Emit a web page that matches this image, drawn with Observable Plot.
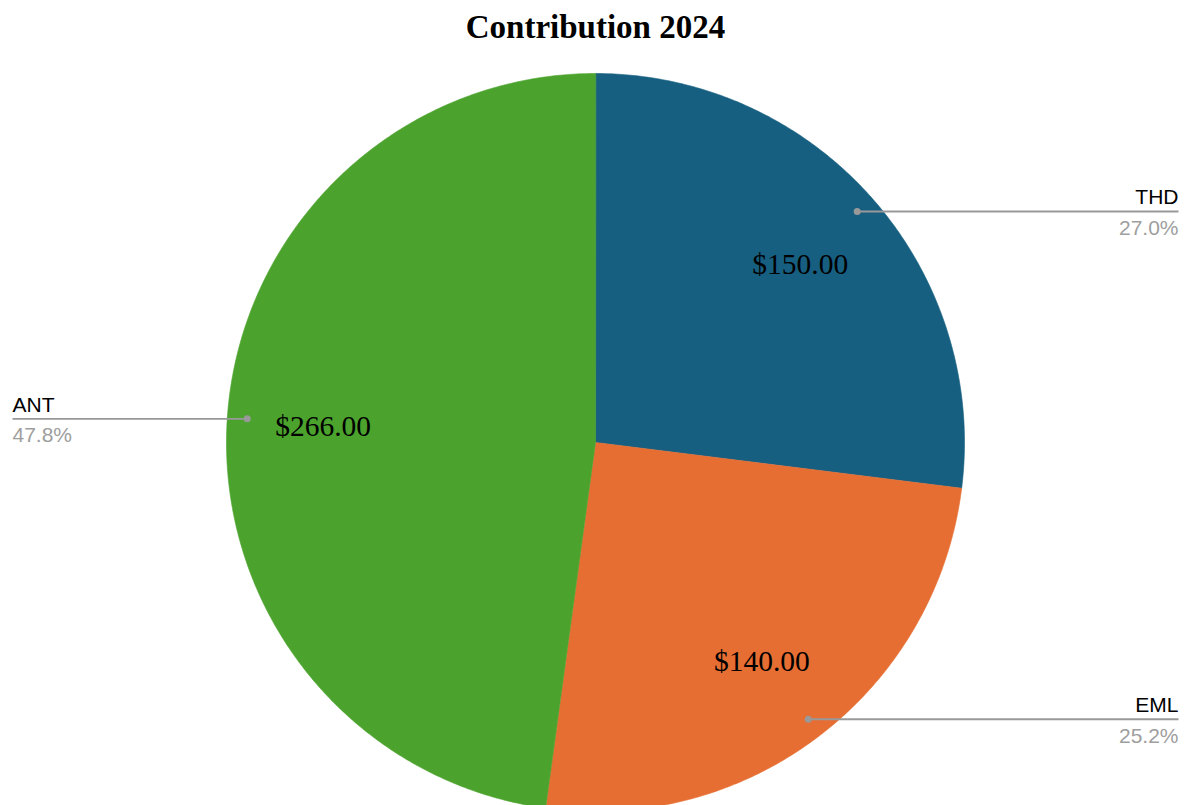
<!DOCTYPE html>
<html>
<head>
<meta charset="utf-8">
<script src="https://cdn.jsdelivr.net/npm/d3@7"></script>
<script src="https://cdn.jsdelivr.net/npm/@observablehq/plot@0.6"></script>
<style>
  html, body { margin: 0; padding: 0; background: #fff; overflow: hidden; }
  #chart svg { display: block; }
</style>
</head>
<body>
<div id="chart"></div>
<script>
// ---- data ----
const title = "Contribution 2024";
const names = ["THD", "EML", "ANT"];
const values = [150, 140, 266];
const colors = ["#175f80", "#e66e33", "#4ba32d"];

// ---- layout (pixels) ----
const W = 1185, H = 805;
const CX = 595, CY = 442, RPX = 369;     // pie centre & radius in px
const DOT_R = 0.946, LABEL_R = 0.74, EDGE = 1.58;

const total = d3.sum(values);
const arcs = d3.pie().sort(null).value(d => d)(values);

// wedge outlines (unit radius, angle clockwise from 12 o'clock)
const wedgePts = [];
arcs.forEach((a, i) => {
  const n = Math.max(4, Math.ceil((a.endAngle - a.startAngle) / (Math.PI / 360)));
  wedgePts.push({name: names[i], x: 0, y: 0});
  for (let k = 0; k <= n; k++) {
    const t = a.startAngle + (a.endAngle - a.startAngle) * k / n;
    wedgePts.push({name: names[i], x: Math.sin(t), y: Math.cos(t)});
  }
});

const labels = arcs.map((a, i) => {
  const m = (a.startAngle + a.endAngle) / 2;
  const side = Math.sin(m) >= 0 ? 1 : -1;
  return {
    name: names[i],
    value: "$" + values[i].toFixed(2),
    pct: (values[i] / total * 100).toFixed(1) + "%",
    side,
    dx: DOT_R * Math.sin(m), dy: DOT_R * Math.cos(m),
    lx: LABEL_R * Math.sin(m), ly: LABEL_R * Math.cos(m),
    ex: EDGE * side
  };
});
const right = labels.filter(d => d.side > 0);
const left = labels.filter(d => d.side < 0);

const sans = "'Liberation Sans', Arial, sans-serif";
const serif = "'Liberation Serif', 'Times New Roman', serif";

function sideText(data, anchor) {
  return [
    Plot.text(data, {x: "ex", y: "dy", text: "name", textAnchor: anchor, lineAnchor: "bottom",
      dy: -7, fontSize: 21, fontFamily: sans, fill: "#000"}),
    Plot.text(data, {x: "ex", y: "dy", text: "pct", textAnchor: anchor, lineAnchor: "top",
      dy: 8.5, fontSize: 21, fontFamily: sans, fill: "#9e9e9e"})
  ];
}

const chart = Plot.plot({
  width: W, height: H, margin: 0,
  style: {background: "#fff", overflow: "hidden"},
  x: {domain: [-CX / RPX, (W - CX) / RPX], axis: null},
  y: {domain: [-(H - CY) / RPX, CY / RPX], axis: null},
  color: {domain: names, range: colors},
  marks: [
    Plot.line(wedgePts, {x: "x", y: "y", z: "name", fill: "name", stroke: "name",
      strokeWidth: 0.6, curve: "linear-closed"}),
    Plot.link(labels, {x1: "dx", y1: "dy", x2: "ex", y2: "dy", stroke: "#999", strokeWidth: 1.8}),
    Plot.dot(labels, {x: "dx", y: "dy", r: 3.5, fill: "#999", stroke: "none"}),
    ...sideText(right, "end"),
    ...sideText(left, "start"),
    Plot.text(labels, {x: "lx", y: "ly", text: "value", fontSize: 29.5, fontFamily: serif,
      fill: "#000", lineAnchor: "middle", dy: 3}),
    Plot.text([title], {x: () => 0, frameAnchor: "top", text: d => d, lineAnchor: "bottom",
      dy: 37, fontSize: 33, fontWeight: "bold", fontFamily: serif, fill: "#000"})
  ]
});
document.getElementById("chart").appendChild(chart);
</script>
</body>
</html>
